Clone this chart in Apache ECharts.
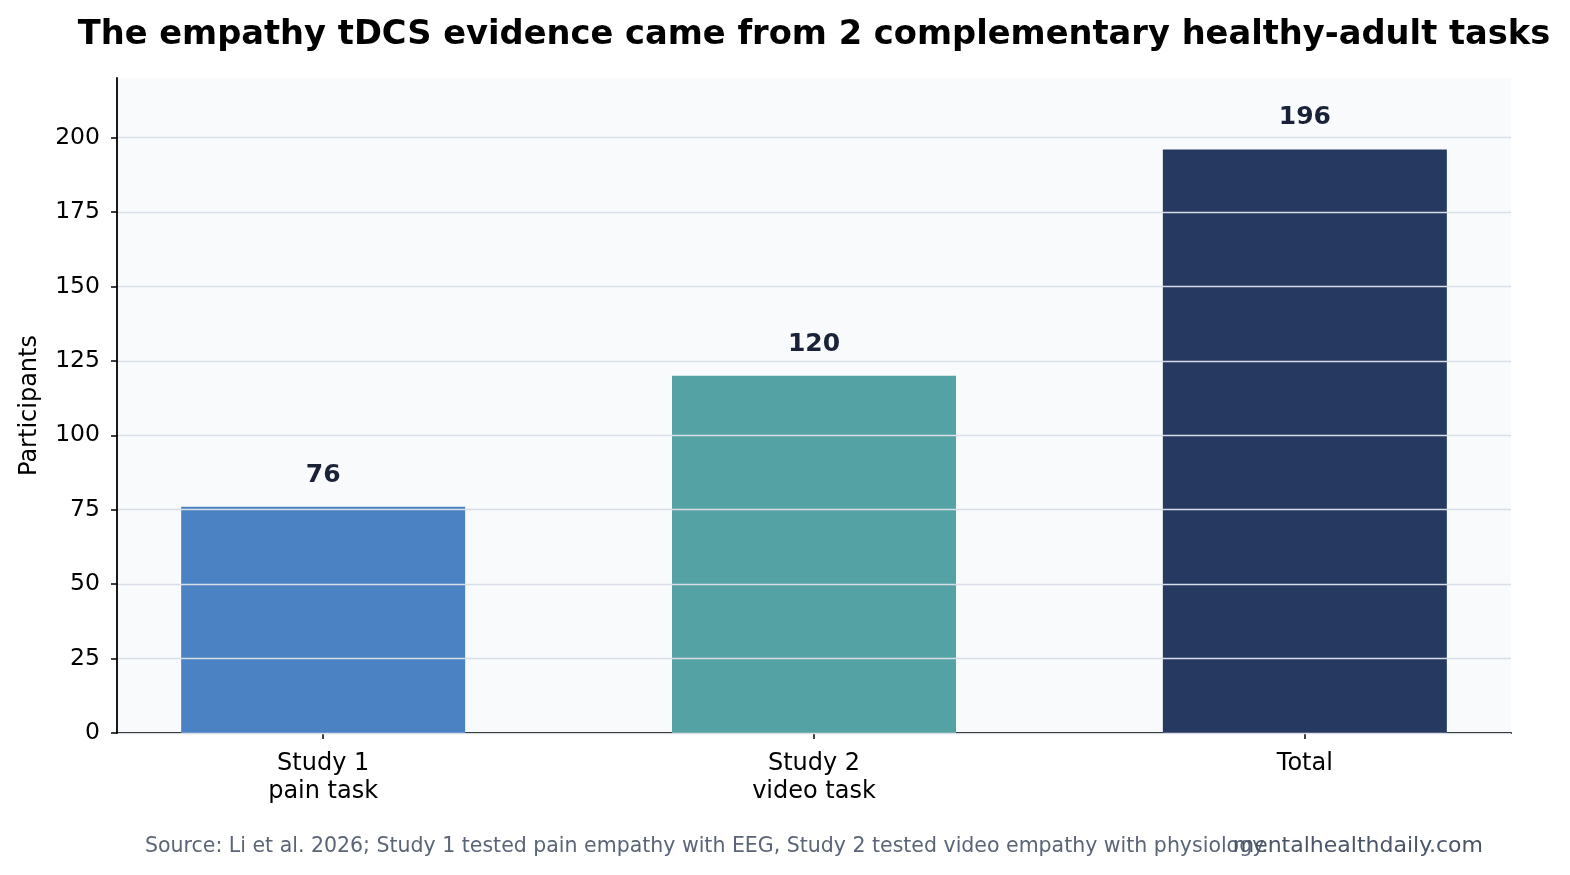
<!DOCTYPE html>
<html>
<head>
<meta charset="utf-8">
<script src="https://cdn.jsdelivr.net/npm/echarts@6/dist/echarts.min.js"></script>
<style>
  html, body { margin: 0; padding: 0; background: #fff; }
  #chart { width: 1570px; height: 875px; }
</style>
</head>
<body>
<div id="chart"></div>
<script>
// 数据
const categories = ['Study 1\npain task', 'Study 2\nvideo task', 'Total']
const participants = [76, 120, 196]
const barColors = ['#4a82c3', '#55a2a4', '#263961']
const yTicks = [0, 25, 50, 75, 100, 125, 150, 175, 200]

const chart = echarts.init(document.getElementById('chart'))
const font = 'DejaVu Sans'

chart.setOption({
  animation: false,
  textStyle: { fontFamily: font },
  title: [
    {
      text: 'The empathy tDCS evidence came from 2 complementary healthy-adult tasks',
      left: 809,
      top: 13,
      textAlign: 'center',
      textStyle: { fontSize: 33.7, fontWeight: 'bold', color: '#000', fontFamily: font }
    },
    {
      // 来源说明（与水印重叠，和原图一致）
      text: 'Source: Li et al. 2026; Study 1 tested pain empathy with EEG, Study 2 tested video empathy with physiology.',
      left: 140,
      top: 831,
      textStyle: { fontSize: 20.5, fontWeight: 'normal', color: '#5a6578', fontFamily: font }
    },
    {
      text: 'mentalhealthdaily.com',
      right: 82,
      top: 830,
      textStyle: { fontSize: 22, fontWeight: 'normal', color: '#4a5568', fontFamily: font }
    }
  ],
  grid: {
    left: 117,
    right: 59,
    top: 78,
    bottom: 142,
    show: true,
    backgroundColor: '#f8fafc',
    borderWidth: 0
  },
  xAxis: {
    type: 'value',
    min: -0.42,
    max: 2.42,
    axisLine: { show: true, onZero: false, lineStyle: { color: '#000', width: 1.8 } },
    axisTick: { show: true, length: 6, lineStyle: { color: '#000', width: 1.5 }, customValues: [0, 1, 2] },
    axisLabel: {
      customValues: [0, 1, 2],
      formatter: v => categories[Math.round(v)],
      fontSize: 24,
      color: '#000',
      margin: 17,
      lineHeight: 28
    },
    splitLine: { show: false }
  },
  yAxis: {
    type: 'value',
    min: 0,
    max: 220,
    z: 3, // 网格线画在柱子上面
    name: 'Participants',
    nameLocation: 'middle',
    nameGap: 75,
    nameTextStyle: { fontSize: 24, color: '#000' },
    axisLine: { show: true, onZero: false, lineStyle: { color: '#000', width: 1.8 } },
    axisTick: { show: true, length: 6, lineStyle: { color: '#000', width: 1.5 }, customValues: yTicks },
    axisLabel: { customValues: yTicks, fontSize: 23.5, color: '#000', margin: 17 },
    splitLine: { show: true, lineStyle: { color: '#d8dde6', width: 1.3 } }
  },
  series: [
    {
      type: 'bar',
      barWidth: 284,
      data: participants.map((v, i) => ({
        value: [i, v],
        itemStyle: { color: barColors[i] }
      })),
      label: {
        show: true,
        position: 'top',
        distance: 19,
        formatter: p => p.value[1],
        fontSize: 25,
        fontWeight: 'bold',
        color: '#1a2238'
      }
    }
  ]
})
</script>
</body>
</html>
